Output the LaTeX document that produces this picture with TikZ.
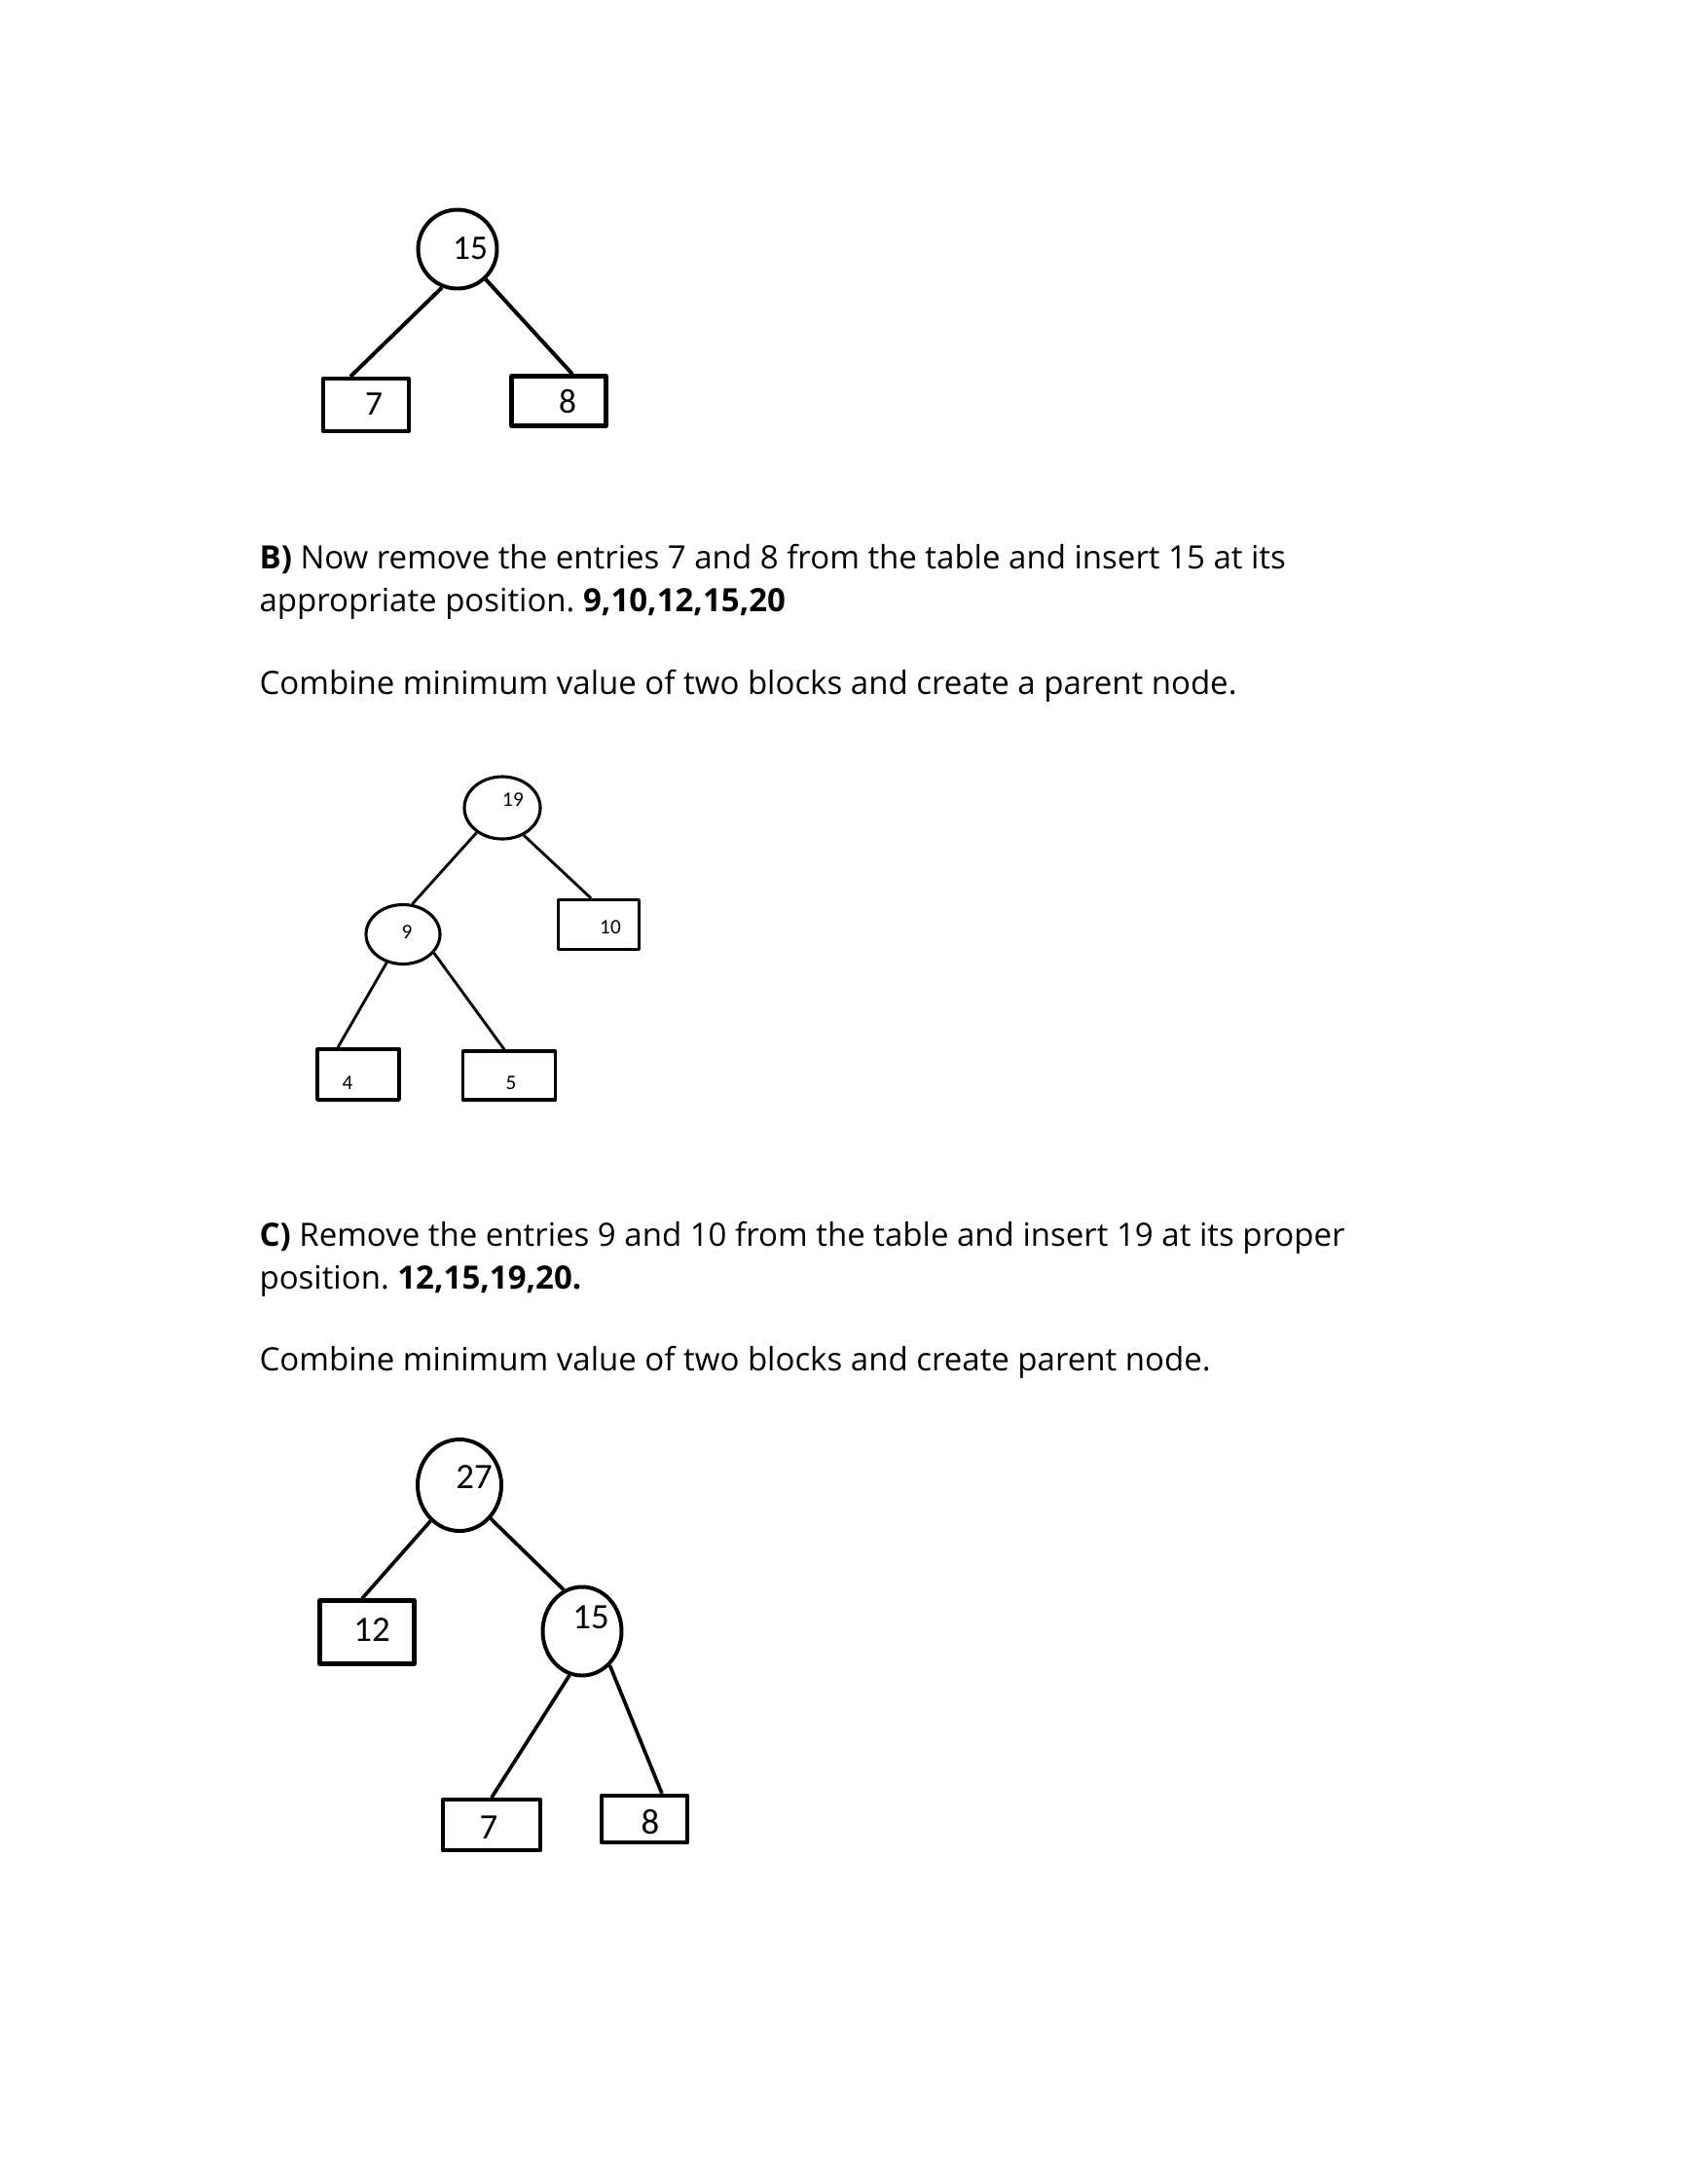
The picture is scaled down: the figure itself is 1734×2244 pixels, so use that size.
\documentclass[tikz,border=0pt]{standalone}
\usepackage{fontspec}
\setmainfont{Open Sans}
\newfontfamily\labelfont{Carlito}
\usetikzlibrary{shapes.geometric,calc}
\newlength\pix
\setlength\pix{0.35294pt}
\frenchspacing
\begin{document}
\begin{tikzpicture}[
	x = 1\pix, % one pixel of the page
	y = -1\pix, % rows go down
	line join = round,
	font = \fontsize{11.65}{16.2}\selectfont
	]
	
	\tikzstyle{inner}=[
	ellipse,
	draw = black,
	line width = 1.4pt,
	inner sep = 0pt
	]
	\tikzstyle{leaf}=[
	rectangle,
	draw = black,
	line width = 1.5pt,
	inner sep = 0pt
	]
	\tikzstyle{para}=[anchor=base west, inner sep=0pt]
	
	\useasboundingbox (0,0) rectangle (1734,2244);
	
	% first tree
	\begin{scope}[every label/.style={font=\labelfont\fontsize{12.5}{15}\selectfont}]
	\node[inner, minimum width=81\pix, minimum height=81\pix, label={[shift={(13,-1)}]center:15}] (a15) at (470,256) {};
	\node[leaf, minimum width=88\pix, minimum height=54\pix, label={[shift={(8,-1)}]center:7}] (a7) at (376,416) {};
	\node[leaf, minimum width=97\pix, minimum height=51\pix, label={[shift={(9,1)}]center:8}] (a8) at (574,412) {};
	\end{scope}
	
	\path[line width=1.4pt]
	(a15.248) edge ($(a7.north)+(-16,0)$)
	(a15.313) edge ($(a8.north)+(14,0)$);
	
	% text of part B
	\node[para] (tB1) at (266,584) {\textbf{B)} Now remove the entries 7 and 8 from the table and insert 15 at its};
	\node[para] (tB2) at (266,628) {appropriate position. \textbf{9,10,12,15,20}};
	\node[para] (tB3) at (266,713) {Combine minimum value of two blocks and create a parent node.};
	
	% second tree
	\begin{scope}[every label/.style={font=\labelfont\fontsize{7.5}{9}\selectfont}]
	\node[inner, line width=1.1pt, minimum width=78\pix, minimum height=64\pix, label={[shift={(11,-8)}]center:19}] (b19) at (516,830) {};
	\node[inner, line width=1.1pt, minimum width=76\pix, minimum height=61\pix, label={[shift={(4,-2)}]center:9}] (b9) at (414,960) {};
	\node[leaf, line width=1.2pt, minimum width=83\pix, minimum height=51\pix, label={[shift={(12,3)}]center:10}] (b10) at (615,950) {};
	\node[leaf, line width=1.2pt, minimum width=84\pix, minimum height=52\pix, label={[shift={(-11,9)}]center:4}] (b4) at (368,1104) {};
	\node[leaf, line width=1.2pt, minimum width=95\pix, minimum height=50\pix, label={[shift={(2,8)}]center:5}] (b5) at (523,1105) {};
	\end{scope}
	
	\path[line width=1pt]
	(b19.224) edge (b9.73)
	(b19.308) edge ($(b10.north)+(-8,0)$)
	(b9.240) edge ($(b4.north)+(-21,0)$)
	(b9.329) edge ($(b5.north)+(-5,0)$);
	
	% text of part C
	\node[para] (tC1) at (266,1280) {\textbf{C)} Remove the entries 9 and 10 from the table and insert 19 at its proper};
	\node[para] (tC2) at (266,1324) {position. \textbf{12,15,19,20.}};
	\node[para] (tC3) at (266,1408) {Combine minimum value of two blocks and create parent node.};
	
	% third tree
	\begin{scope}[every label/.style={font=\labelfont\fontsize{13}{15}\selectfont}]
	\node[inner, minimum width=86\pix, minimum height=94\pix, label={[shift={(15,-8)}]center:27}] (c27) at (472,1526) {};
	\node[inner, minimum width=81\pix, minimum height=91\pix, label={[shift={(9,-14)}]center:15}] (c15) at (598,1676) {};
	\node[leaf, minimum width=97\pix, minimum height=65\pix, label={[shift={(5,-2)}]center:12}] (c12) at (377,1677) {};
	\node[leaf, minimum width=100\pix, minimum height=52\pix, label={[shift={(-3,3)}]center:7}] (c7) at (505,1875) {};
	\node[leaf, minimum width=88\pix, minimum height=48\pix, label={[shift={(6,3)}]center:8}] (c8) at (662,1869) {};
	\end{scope}
	
	\path[line width=1.3pt]
	(c27.231) edge ($(c12.north)+(-5,0)$)
	(c27.313) edge (c15.114)
	(c15.254) edge (c7.north)
	(c15.309) edge ($(c8.north)+(18,0)$);
	
\end{tikzpicture}
\end{document}
